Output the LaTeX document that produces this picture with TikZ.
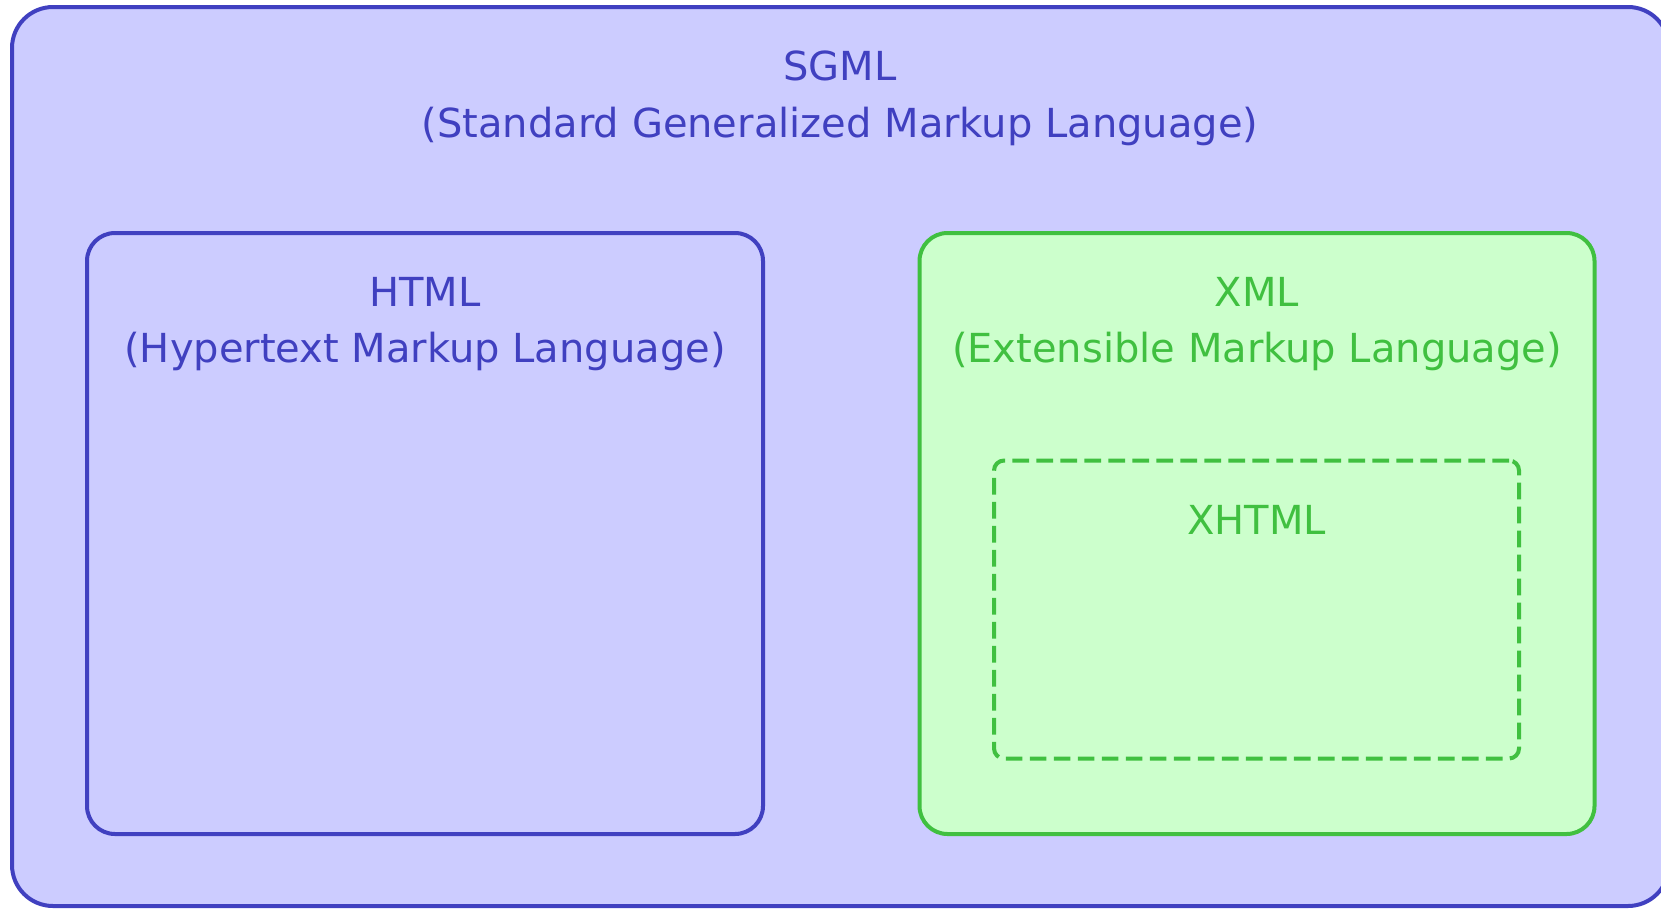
\documentclass[tikz,border=0pt]{standalone}
\usepackage{fontspec}
\setmainfont{DejaVu Sans}
\definecolor{bstroke}{HTML}{4040C0}
\definecolor{bfill}{HTML}{CCCCFF}
\definecolor{gstroke}{HTML}{40C040}
\definecolor{gfill}{HTML}{CCFFCC}
\tikzset{
  box/.style={rectangle, line width=4pt, inner sep=0pt, outer sep=0pt},
  bluebox/.style={box, draw=bstroke, fill=bfill},
  greenbox/.style={box, draw=gstroke, fill=gfill},
  lbl/.style={anchor=base, inner sep=0pt, font=\fontsize{40}{48}\selectfont},
}
\begin{document}
\begin{tikzpicture}[x=1pt, y=-1pt]
\useasboundingbox (0,0) rectangle (1661,910);
\clip (0,0) rectangle (1661,910);
\fill[white] (0,0) rectangle (1661,910);
\node[bluebox, rounded corners=41pt, minimum width=1657pt, minimum height=899pt] (sgml) at (840.5,456.5) {};
\node[bluebox, rounded corners=28pt, minimum width=676pt, minimum height=601pt] (html) at (425,533.5) {};
\node[greenbox, rounded corners=28pt, minimum width=675pt, minimum height=601pt] (xml) at (1257,533.5) {};
\node[box, draw=gstroke, dash pattern=on 16.7pt off 7.3pt, rounded corners=10pt, minimum width=525pt, minimum height=298pt] (xhtml) at (1256.5,609.5) {};
\node[lbl, text=bstroke] (t1) at (840,80) {SGML};
\node[lbl, text=bstroke] (t2) at (840,137) {(Standard Generalized Markup Language)};
\node[lbl, text=bstroke] (t3) at (425,306.5) {HTML};
\node[lbl, text=bstroke] (t4) at (425,362) {(Hypertext Markup Language)};
\node[lbl, text=gstroke] (t5) at (1257,306.5) {XML};
\node[lbl, text=gstroke] (t6) at (1257,362) {(Extensible Markup Language)};
\node[lbl, text=gstroke] (t7) at (1256.5,534) {XHTML};
\end{tikzpicture}
\end{document}
